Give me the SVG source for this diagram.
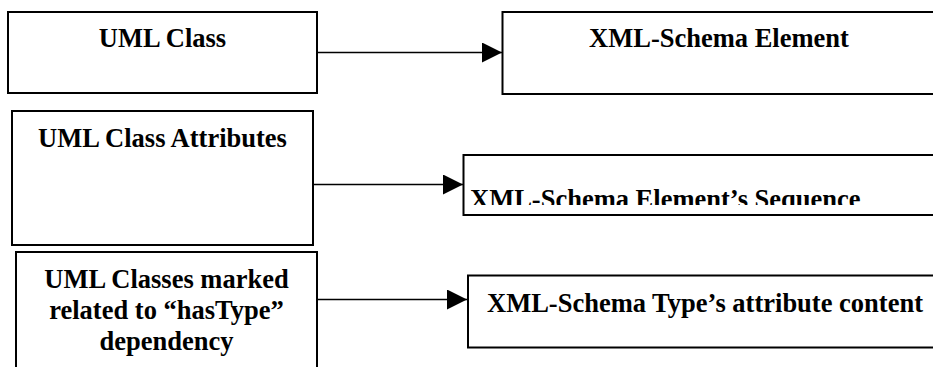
<svg xmlns="http://www.w3.org/2000/svg" width="933" height="367" viewBox="0 0 933 367">
<style>
.box{fill:#fff;stroke:#000;stroke-width:2}
.lbl{font-family:"Liberation Serif","Times New Roman",serif;font-weight:bold;font-size:26.5px;fill:#000}
.c{text-anchor:middle}
.conn{stroke:#000;stroke-width:1.4;fill:none;marker-end:url(#arr)}
</style>
<defs>
<marker id="arr" markerUnits="userSpaceOnUse" markerWidth="20" markerHeight="20" refX="20" refY="10" orient="auto">
<path d="M0,0 L20,10 L0,20 Z" fill="#000"/>
</marker>
<clipPath id="clipSeq"><rect x="463" y="155" width="480" height="50"/></clipPath>
</defs>
<rect width="933" height="367" fill="#fff"/>
<g id="n-uml-class">
<rect class="box" x="8" y="12" width="309" height="81"/>
<text class="lbl c" x="162.5" y="47">UML Class</text>
</g>
<g id="n-xsd-element">
<rect class="box" x="502.5" y="12" width="440" height="82"/>
<text class="lbl c" x="719" y="47">XML-Schema Element</text>
</g>
<g id="n-uml-attrs">
<rect class="box" x="12" y="111" width="301" height="134"/>
<text class="lbl c" x="162.5" y="147">UML Class Attributes</text>
</g>
<g id="n-xsd-sequence">
<rect class="box" x="463.5" y="155" width="480" height="60"/>
<text class="lbl" x="470" y="208" clip-path="url(#clipSeq)">XML-Schema Element’s Sequence</text>
</g>
<g id="n-uml-hastype">
<rect class="box" x="16" y="252" width="301" height="130"/>
<text class="lbl c" x="166.5" y="288">UML Classes marked</text>
<text class="lbl c" x="166.5" y="319">related to “hasType”</text>
<text class="lbl c" x="166.5" y="350">dependency</text>
</g>
<g id="n-xsd-type-attr">
<rect class="box" x="468" y="275.5" width="480" height="72"/>
<text class="lbl c" x="705" y="312">XML-Schema Type’s attribute content</text>
</g>
<g id="connectors">
<line class="conn" x1="318" y1="52.5" x2="502" y2="52.5"/>
<line class="conn" x1="314" y1="184.5" x2="463" y2="184.5"/>
<line class="conn" x1="318" y1="299.5" x2="467" y2="299.5"/>
</g>
</svg>
